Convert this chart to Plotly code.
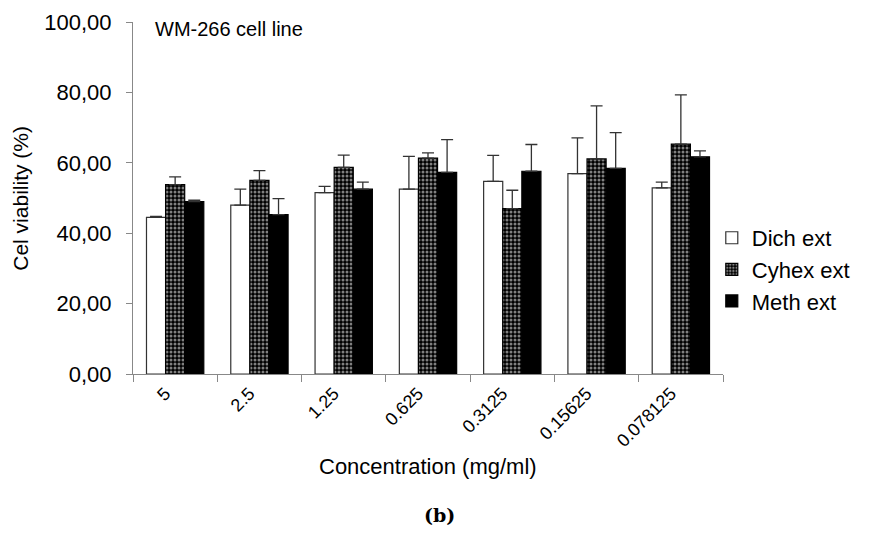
import plotly.graph_objects as go

categories = ["5", "2.5", "1.25", "0.625", "0.3125", "0.15625", "0.078125"]
dich = [44.5, 48.0, 51.5, 52.5, 54.7, 56.9, 52.9]
dich_err = [0.3, 4.5, 1.8, 9.3, 7.4, 10.2, 1.6]
cyhex = [53.8, 55.0, 58.7, 61.3, 47.0, 61.1, 65.3]
cyhex_err = [2.2, 2.8, 3.5, 1.5, 5.2, 15.1, 14.0]
meth = [49.0, 45.3, 52.5, 57.3, 57.6, 58.4, 61.7]
meth_err = [0.4, 4.5, 2.0, 9.3, 7.6, 10.2, 1.7]
yticks = [0, 20, 40, 60, 80, 100]
ytick_labels = ["0,00", "20,00", "40,00", "60,00", "80,00", "100,00"]

FONT = "Liberation Sans, Arial, sans-serif"

def err(vals):
    return dict(type="data", array=vals, arrayminus=[0] * len(vals), symmetric=False,
                color="#333333", thickness=1.3, width=6)

fig = go.Figure()
fig.add_trace(go.Bar(name="Dich ext", x=categories, y=dich, error_y=err(dich_err),
                     marker=dict(color="white", line=dict(color="#333333", width=1.2))))
fig.add_trace(go.Bar(name="Cyhex ext", x=categories, y=cyhex, error_y=err(cyhex_err),
                     marker=dict(color="black", line=dict(color="black", width=1.2),
                                 pattern=dict(shape=".", bgcolor="black", fgcolor="white",
                                              size=4, solidity=0.45, fillmode="overlay"))))
fig.add_trace(go.Bar(name="Meth ext", x=categories, y=meth, error_y=err(meth_err),
                     marker=dict(color="black", line=dict(color="black", width=1.2))))

fig.update_layout(
    width=884, height=549,
    paper_bgcolor="white", plot_bgcolor="white",
    margin=dict(l=133, r=161, t=22, b=175),
    barmode="group", bargap=0.32, bargroupgap=0,
    font=dict(family=FONT, color="black"),
    legend=dict(x=0.981, y=0.297, xanchor="left", yanchor="middle",
                font=dict(size=22, family=FONT), tracegroupgap=0,
                traceorder="normal", bgcolor="rgba(0,0,0,0)"),
    xaxis=dict(type="category", showline=True, linecolor="#888888", linewidth=1,
               ticks="outside", tickson="boundaries", ticklen=7, tickcolor="#888888",
               tickangle=-45, tickfont=dict(size=18, family=FONT), ticklabelstandoff=1,
               ticklabelshift=-10, showgrid=False, automargin=False),
    yaxis=dict(range=[0, 100], tickvals=yticks, ticktext=ytick_labels,
               showline=True, linecolor="#888888", linewidth=1,
               ticks="outside", ticklen=6, tickcolor="#888888", ticklabelstandoff=10,
               tickfont=dict(size=22, family=FONT), showgrid=False, zeroline=False,
               automargin=False),
    annotations=[
        dict(text="WM-266 cell line", x=0.034, y=0.98, xref="paper", yref="paper",
             xanchor="left", yanchor="middle", showarrow=False, font=dict(size=20, family=FONT)),
        dict(text="Cel viability (%)", x=-0.192, y=0.5, xref="paper", yref="paper",
             xanchor="center", yanchor="middle", textangle=-90, showarrow=False,
             font=dict(size=21, family=FONT)),
        dict(text="Concentration (mg/ml)", x=0.5, y=-0.262, xref="paper", yref="paper",
             xanchor="center", yanchor="middle", showarrow=False,
             font=dict(size=22, family=FONT)),
        dict(text="<b>(b)</b>", x=0.52, xref="paper", y=-0.40, yref="paper",
             xanchor="center", yanchor="middle", showarrow=False,
             font=dict(size=19, family="DejaVu Serif, serif")),
    ],
)
fig.write_html("out.html", config={"displayModeBar": False},
               post_script="document.body.style.margin='0';document.body.style.padding='0';")
